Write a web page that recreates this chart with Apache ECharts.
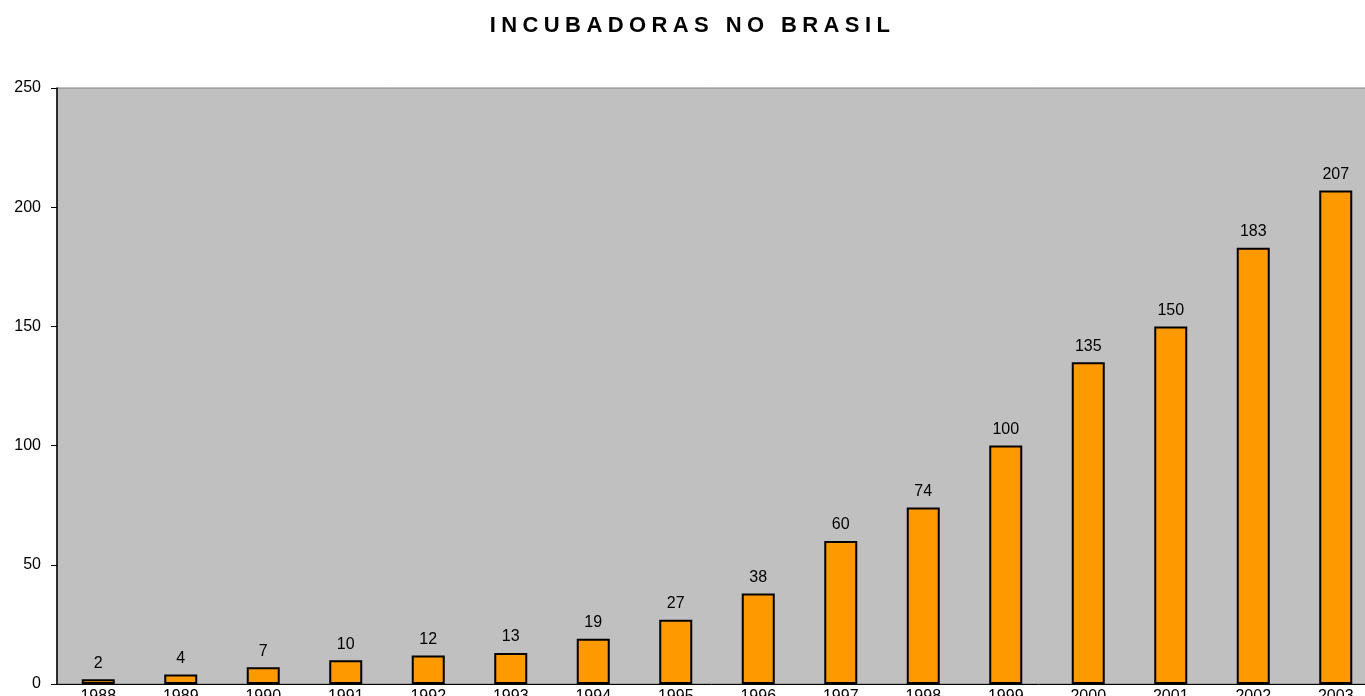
<!DOCTYPE html>
<html>
<head>
<meta charset="utf-8">
<style>
html, body { margin: 0; padding: 0; background: #fff; overflow: hidden; }
#titulo { position: absolute; left: 0; top: 12px; width: 1385px; text-align: center;
  font-family: "Liberation Sans", Arial, sans-serif; font-weight: bold; font-size: 22px;
  letter-spacing: 5.4px; color: #000; z-index: 2; }
#chart { width: 1365px; height: 696px; }
</style>
</head>
<body>
<div id="titulo">INCUBADORAS NO BRASIL</div>
<div id="chart"></div>
<script src="https://cdn.jsdelivr.net/npm/echarts@6/dist/echarts.min.js"></script>
<script>
// incubadoras por ano
var anos = ['1988','1989','1990','1991','1992','1993','1994','1995','1996','1997','1998','1999','2000','2001','2002','2003'];
var incubadoras = [2, 4, 7, 10, 12, 13, 19, 27, 38, 60, 74, 100, 135, 150, 183, 207];

var chart = echarts.init(document.getElementById('chart'));
var option = {
    animation: false,
    textStyle: { fontFamily: 'Liberation Sans, Arial, sans-serif' },
    grid: {
        left: 57,
        top: 88,
        width: 1320,
        height: 596,
        outerBoundsMode: 'none',
        show: true,
        backgroundColor: '#c0c0c0',
        borderColor: '#808080',
        borderWidth: 1
    },
    xAxis: {
        type: 'category',
        data: anos,
        axisLine: { lineStyle: { color: '#000', width: 1 } },
        axisTick: { show: false },
        axisLabel: { color: '#000', fontSize: 16, margin: 5, interval: 0 }
    },
    yAxis: {
        type: 'value',
        min: 0,
        max: 250,
        interval: 50,
        axisLine: { show: true, lineStyle: { color: '#000', width: 1.5 } },
        axisTick: { show: true, length: 6, lineStyle: { color: '#000' } },
        splitLine: { show: false },
        axisLabel: { color: '#000', fontSize: 16, margin: 16 }
    },
    series: [
        {
            type: 'bar',
            data: incubadoras,
            barWidth: 33,
            itemStyle: { color: '#ff9900', borderColor: '#000', borderWidth: 2 },
            label: { show: true, position: 'top', distance: 8, color: '#000', fontSize: 16 }
        }
    ]
};
chart.setOption(option);
</script>
</body>
</html>
